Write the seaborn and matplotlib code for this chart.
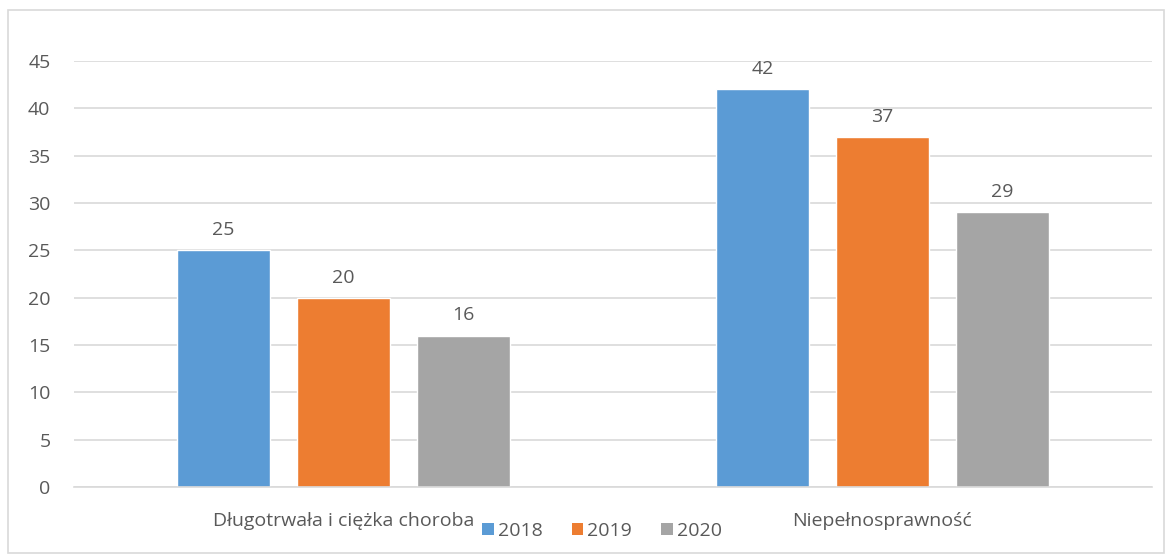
import matplotlib
matplotlib.use("Agg")
import matplotlib.pyplot as plt
import seaborn as sns
import pandas as pd
from matplotlib.patches import Rectangle, Patch

categories = ["Długotrwała i ciężka choroba", "Niepełnosprawność"]
years = ["2018", "2019", "2020"]
values_2018 = [25, 42]
values_2019 = [20, 37]
values_2020 = [16, 29]
colors = ["#5B9BD5", "#ED7D31", "#A5A5A5"]
yticks = [0, 5, 10, 15, 20, 25, 30, 35, 40, 45]

rows = []
for yr, vals in zip(years, [values_2018, values_2019, values_2020]):
    for c, v in zip(categories, vals):
        rows.append({"cat": c, "year": yr, "value": v})
df = pd.DataFrame(rows)

sns.set_theme(style="white")
plt.rcParams["font.family"] = ["Open Sans", "DejaVu Sans"]
text_color = "#595959"
grid_color = "#D9D9D9"
fs = 14

fig = plt.figure(figsize=(11.68, 5.54), dpi=100)
ax = fig.add_axes([74 / 1168, 1 - 487 / 554, (1152 - 74) / 1168, (487 - 61) / 554])

sns.barplot(data=df, x="cat", y="value", hue="year", palette=colors,
            order=categories, hue_order=years, width=0.668, gap=0.225,
            saturation=1, ax=ax, legend=False)

ax.set_xlim(-0.5, 1.5)
ax.set_ylim(0, 45)
ax.set_yticks(yticks)
ax.set_yticklabels([str(t) for t in yticks], fontsize=fs, color=text_color)
ax.tick_params(axis="y", length=0, pad=17)
ax.tick_params(axis="x", length=0, pad=18, labelsize=fs, labelcolor=text_color)
ax.set_xlabel("")
ax.set_ylabel("")
ax.grid(axis="y", color=grid_color, linewidth=1.2)
ax.set_axisbelow(True)
for s in ["top", "right", "left"]:
    ax.spines[s].set_visible(False)
ax.spines["bottom"].set_color(grid_color)
ax.spines["bottom"].set_linewidth(1.2)

for cont in ax.containers:
    ax.bar_label(cont, labels=[f"{int(v)}" for v in cont.datavalues],
                 padding=8, fontsize=fs, color=text_color)

handles = [Patch(facecolor=c, edgecolor="none") for c in colors]
fig.legend(handles, years, loc="center", bbox_to_anchor=(602 / 1168, 1 - 531 / 554),
           ncol=3, frameon=False, fontsize=fs, labelcolor=text_color,
           handlelength=0.6, handleheight=0.6, handletextpad=0.2, columnspacing=1.5)

fig.patches.append(Rectangle((8 / 1168, 0.002), (1164 - 8) / 1168, 1 - 10 / 554 - 0.002,
                             transform=fig.transFigure, fill=False,
                             edgecolor=grid_color, linewidth=1.2))

fig.savefig("out.png", dpi=100)
